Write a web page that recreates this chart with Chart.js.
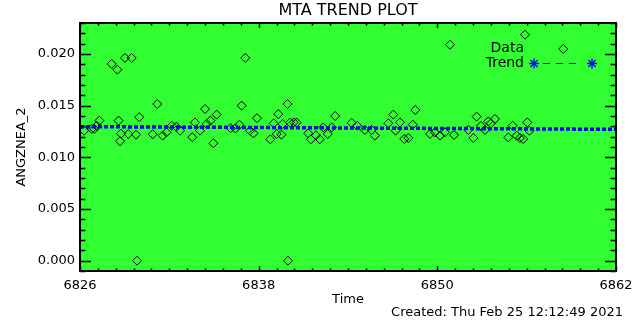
<!DOCTYPE html>
<html><head><meta charset="utf-8">
<script src="https://cdn.jsdelivr.net/npm/chart.js@4.4.0/dist/chart.umd.min.js"></script>
<style>html,body{margin:0;padding:0;background:#fff}#wrap{width:640px;height:320px}</style>
</head><body><div id="wrap"><canvas id="c" width="640" height="320"></canvas></div>
<script>
const dataTime = [6826.27,6826.79,6826.96,6827.12,6827.30,6828.13,6828.51,6828.59,6828.69,6828.75,
  6829.02,6829.24,6829.47,6829.76,6829.83,6829.98,6830.88,6831.19,6831.55,6831.81,
  6832.16,6832.47,6832.72,6833.54,6833.72,6834.06,6834.40,6834.51,6834.76,6834.95,
  6835.18,6836.12,6836.44,6836.71,6836.86,6837.10,6837.42,6837.65,6837.89,6838.78,
  6839.01,6839.21,6839.32,6839.53,6839.61,6839.94,6839.97,6840.10,6840.35,6840.55,
  6841.33,6841.51,6841.85,6842.10,6842.34,6842.64,6842.91,6843.14,6844.25,6844.62,
  6845.14,6845.59,6845.81,6846.71,6847.04,6847.20,6847.49,6847.78,6848.05,6848.35,
  6848.52,6849.51,6849.84,6850.18,6850.51,6850.85,6851.12,6852.08,6852.42,6852.64,
  6852.93,6853.20,6853.42,6853.60,6853.87,6854.77,6855.06,6855.33,6855.55,6855.77,
  6855.89,6856.04,6856.18,6858.46];
const dataValue = [0.01258,0.01275,0.01275,0.01306,0.01355,0.01904,0.01848,0.01355,0.01156,0.01229,
  0.01962,0.01226,0.01962,0.01219,0.00000,0.01389,0.01224,0.01516,0.01210,0.01242,
  0.01306,0.01297,0.01258,0.01195,0.01338,0.01258,0.01468,0.01323,0.01355,0.01137,
  0.01413,0.01282,0.01280,0.01316,0.01500,0.01962,0.01258,0.01232,0.01379,0.01174,
  0.01329,0.01226,0.01418,0.01219,0.01323,0.01516,0.00000,0.01336,0.01338,0.01336,
  0.01232,0.01174,0.01213,0.01174,0.01290,0.01226,0.01290,0.01400,0.01333,0.01306,
  0.01265,0.01265,0.01210,0.01329,0.01413,0.01258,0.01338,0.01178,0.01187,0.01316,
  0.01458,0.01226,0.01242,0.01210,0.01242,0.02090,0.01216,0.01265,0.01187,0.01394,
  0.01304,0.01265,0.01348,0.01329,0.01371,0.01193,0.01306,0.01210,0.01187,0.01178,
  0.02187,0.01338,0.01258,0.02049];
const trendTime = [6826, 6862];
const trendValue = [0.01297, 0.01271];
const xTickValues = [6826, 6838, 6850, 6862];
const xTickLabels = ['6826', '6838', '6850', '6862'];
const yTickValues = [0.000, 0.005, 0.010, 0.015, 0.020];
const yTickLabels = ['0.000', '0.005', '0.010', '0.015', '0.020'];
const xRange = [6826, 6862];
const yRange = [-0.001, 0.023];
const xMinorStep = 1.2;
const yMinorStep = 0.001;
const titleText = 'MTA TREND PLOT';
const xTitle = 'Time';
const yTitle = 'ANGZNEA_2';
const createdText = 'Created: Thu Feb 25 12:12:49 2021';
const legendLabels = ['Data', 'Trend'];

const FONT = "'DejaVu Sans', sans-serif";
const GREEN = 'rgb(50,255,50)';
const BLUE = 'rgb(0,0,255)';

const decor = {
  id: 'decor',
  beforeDraw(chart) {
    const {ctx, chartArea: a} = chart;
    ctx.save();
    ctx.fillStyle = '#fff';
    ctx.fillRect(0, 0, chart.width, chart.height);
    ctx.fillStyle = GREEN;
    ctx.fillRect(a.left, a.top, a.right - a.left, a.bottom - a.top);
    ctx.restore();
  },
  afterDraw(chart) {
    const {ctx, chartArea: a} = chart;
    const xs = chart.scales.x, ys = chart.scales.y;
    ctx.save();
    ctx.strokeStyle = '#000';
    ctx.lineWidth = 2;
    ctx.strokeRect(a.left, a.top, a.right - a.left, a.bottom - a.top);
    ctx.lineWidth = 1.5;
    ctx.beginPath();
    const nx = Math.round((xRange[1] - xRange[0]) / xMinorStep);
    for (let i = 0; i <= nx; i++) {
      const v = xRange[0] + i * xMinorStep;
      const px = Math.round(xs.getPixelForValue(v)) + 0.5;
      const major = i % 10 === 0;
      const L = major ? 5 : 2.5;
      ctx.moveTo(px, a.bottom); ctx.lineTo(px, a.bottom - L);
      ctx.moveTo(px, a.top); ctx.lineTo(px, a.top + L);
    }
    const ny = Math.round((yRange[1] - yRange[0]) / yMinorStep);
    for (let i = 0; i <= ny; i++) {
      const v = yRange[0] + i * yMinorStep;
      const py = Math.round(ys.getPixelForValue(v)) + 0.5;
      const major = (i - 1) % 5 === 0;
      const L = major ? 11 : 5.5;
      ctx.moveTo(a.left, py); ctx.lineTo(a.left + L, py);
      ctx.moveTo(a.right, py); ctx.lineTo(a.right - L, py);
    }
    ctx.stroke();

    ctx.fillStyle = '#000';
    ctx.textBaseline = 'middle';
    ctx.font = '16px ' + FONT;
    ctx.textAlign = 'center';
    ctx.fillText(titleText, (a.left + a.right) / 2, 11);
    ctx.font = '13px ' + FONT;
    ctx.fillText(xTitle, (a.left + a.right) / 2, 300);
    ctx.textAlign = 'right';
    ctx.fillText(createdText, 623, 313);
    ctx.save();
    ctx.translate(22, (a.top + a.bottom) / 2);
    ctx.rotate(-Math.PI / 2);
    ctx.textAlign = 'center';
    ctx.fillText(yTitle, 0, 0);
    ctx.restore();

    // legend
    ctx.font = '14px ' + FONT;
    ctx.textAlign = 'right';
    ctx.fillText(legendLabels[0], 524, 48);
    ctx.fillText(legendLabels[1], 524, 63);
    ctx.strokeStyle = BLUE;
    ctx.lineWidth = 1;
    ctx.setLineDash([7, 6]);
    ctx.beginPath();
    ctx.moveTo(543, 63.5); ctx.lineTo(577, 63.5);
    ctx.stroke();
    ctx.setLineDash([]);
    ctx.lineWidth = 1.3;
    [534, 592].forEach(cx => {
      ctx.beginPath();
      const r = 5;
      for (let k = 0; k < 4; k++) {
        const ang = k * Math.PI / 4;
        ctx.moveTo(cx - r * Math.cos(ang), 63.5 - r * Math.sin(ang));
        ctx.lineTo(cx + r * Math.cos(ang), 63.5 + r * Math.sin(ang));
      }
      ctx.stroke();
    });
    ctx.restore();
  }
};

new Chart(document.getElementById('c'), {
  data: {
    datasets: [
      {
        type: 'scatter',
        label: legendLabels[0],
        data: dataTime.map((t, i) => ({x: t, y: dataValue[i]})),
        pointStyle: 'rectRot',
        pointRadius: 4.5,
        pointBorderWidth: 1,
        borderColor: '#000',
        backgroundColor: 'rgba(0,0,0,0)',
        order: 2
      },
      {
        type: 'line',
        label: legendLabels[1],
        data: trendTime.map((t, i) => ({x: t, y: trendValue[i]})),
        borderColor: BLUE,
        borderWidth: 3.5,
        borderDash: [4, 2],
        pointRadius: 0,
        fill: false,
        order: 1
      }
    ]
  },
  options: {
    responsive: false,
    devicePixelRatio: 1,
    animation: false,
    layout: {padding: {left: 0, right: 24, top: 23, bottom: 0}},
    plugins: {legend: {display: false}, tooltip: {enabled: false}, title: {display: false}},
    scales: {
      x: {
        type: 'linear', min: xRange[0], max: xRange[1],
        afterBuildTicks: s => { s.ticks = xTickValues.map(v => ({value: v})); },
        afterFit: s => { s.height = 49; },
        ticks: {callback: (v, i) => xTickLabels[i], color: '#000', font: {family: FONT, size: 13}, padding: 7, maxRotation: 0, autoSkip: false},
        grid: {display: false, drawTicks: false},
        border: {display: false}
      },
      y: {
        type: 'linear', min: yRange[0], max: yRange[1],
        afterBuildTicks: s => { s.ticks = yTickValues.map(v => ({value: v})); },
        afterFit: s => { s.width = 80; },
        ticks: {callback: (v, i) => yTickLabels[i], color: '#000', font: {family: FONT, size: 13}, padding: 5, autoSkip: false},
        grid: {display: false, drawTicks: false},
        border: {display: false}
      }
    }
  },
  plugins: [decor]
});
</script></body></html>
